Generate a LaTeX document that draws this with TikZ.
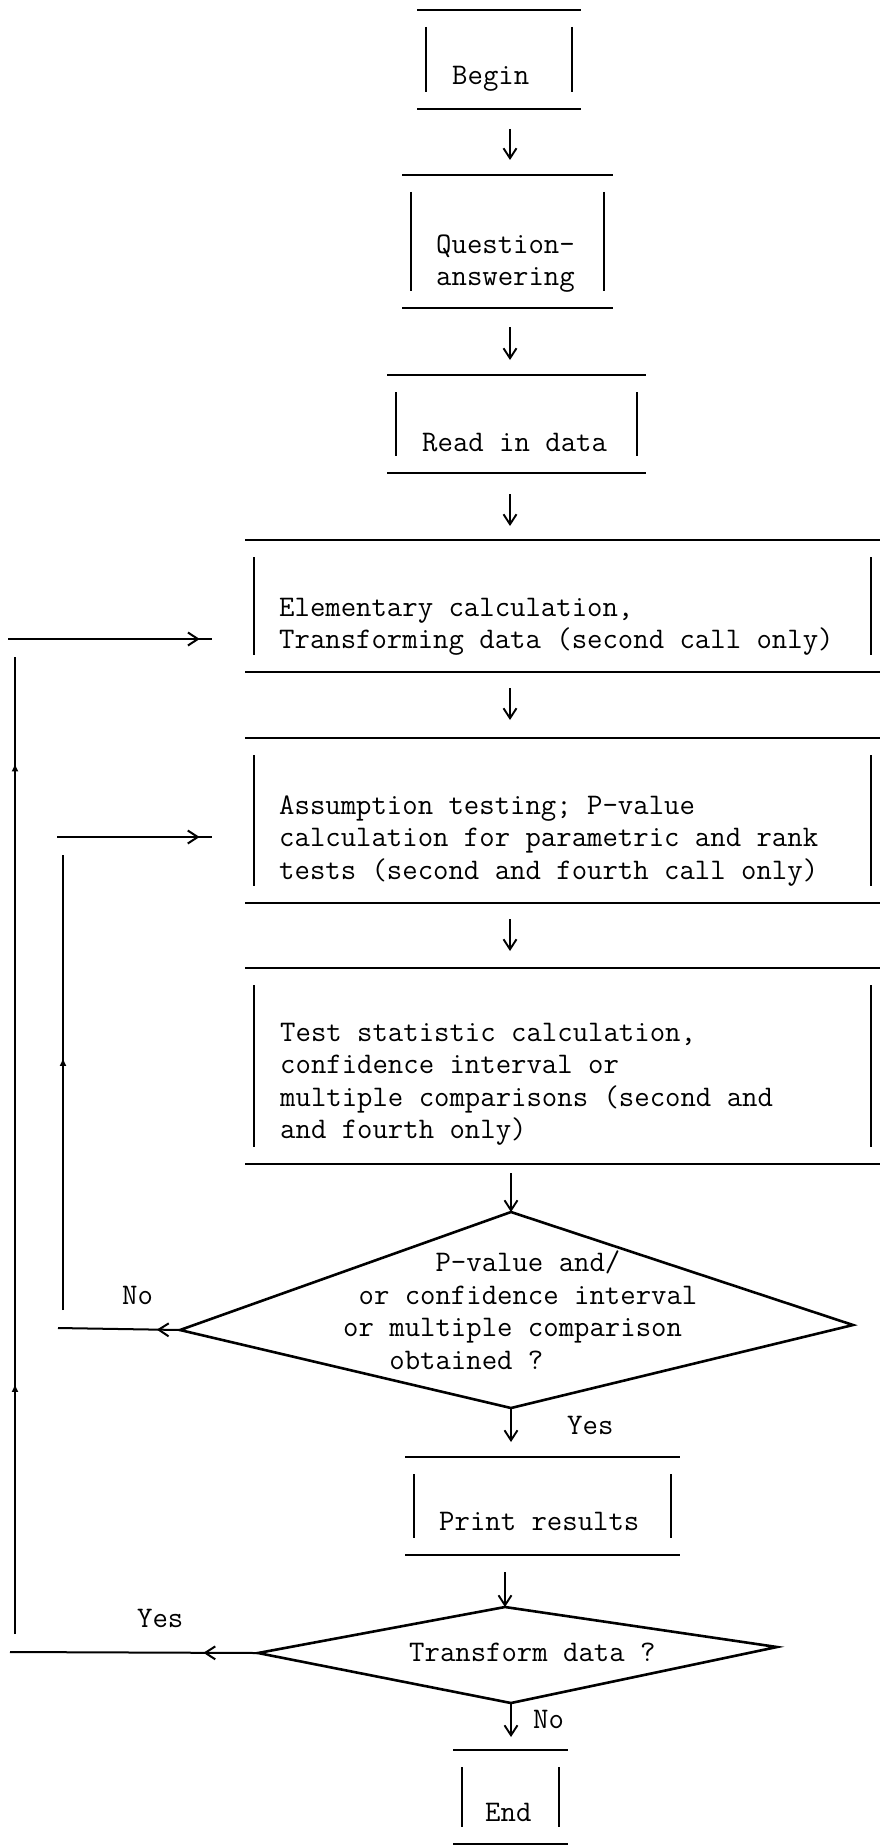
\documentclass[tikz,border=0pt]{standalone}
\usepackage{fontspec}
\usetikzlibrary{arrows.meta,decorations.markings,calc}
\newcommand\twfont{\fontsize{29.9pt}{32.5pt}\selectfont\ttfamily\addfontfeatures{FakeBold=2.5}}
\newcommand\openbox[1]{%
  \draw[hline] (#1.north west) -- (#1.north east);
  \draw[hline] (#1.south west) -- (#1.south east);
  \draw[vbar] ($(#1.north west)+(9,17)$) -- ($(#1.south west)+(9,-17)$);
  \draw[vbar] ($(#1.north east)+(-9,17)$) -- ($(#1.south east)+(-9,-17)$);}
\begin{document}
\begin{tikzpicture}[x=1pt,y=-1pt,
  frame/.style={draw=none, inner sep=0pt, outer sep=0pt},
  hline/.style={line width=2.8pt},
  vbar/.style={line width=2pt},
  txt/.style={font=\twfont, inner sep=0pt, align=left, anchor=base west},
  arr/.style={line width=1.9pt, -{Straight Barb[length=10pt,width=13pt]}},
  dia/.style={line width=2.6pt, line join=miter},
  fb/.style={line width=2pt},
  midarr/.style={postaction={decorate}, decoration={markings,
     mark=at position #1 with {\arrow{Straight Barb[length=10pt,width=13pt]}}}},
  uparr/.style={postaction={decorate}, decoration={markings,
     mark=at position #1 with {\arrow{Latex[length=8pt,width=7pt]}}}},
]
\fill[white] (0,0) rectangle (880,1846);
\useasboundingbox (0,0) rectangle (880,1846);

% box frames
\node[frame, minimum width=164pt, minimum height=99pt]  (begin) at (499,59.5) {};
\node[frame, minimum width=211pt, minimum height=133pt] (quest) at (507.5,241.5) {};
\node[frame, minimum width=259pt, minimum height=98pt]  (read)  at (516.5,424) {};
\node[frame, minimum width=635pt, minimum height=132pt] (elem)  at (562.5,606) {};
\node[frame, minimum width=635pt, minimum height=165pt] (assum) at (562.5,820.5) {};
\node[frame, minimum width=635pt, minimum height=196pt] (test)  at (562.5,1066) {};
\node[frame, minimum width=275pt, minimum height=98pt]  (print) at (542.5,1506) {};
\node[frame, minimum width=115pt, minimum height=94pt]  (end)   at (510.5,1797) {};
\openbox{begin}\openbox{quest}\openbox{read}\openbox{elem}
\openbox{assum}\openbox{test}\openbox{print}\openbox{end}

% texts (base anchor = baseline of the last line)
\node[txt] (tbegin) at (452,85) {Begin};
\node[txt] (tquest) at (436,285.5) {Question-\\answering};
\node[txt] (tread)  at (422,451) {Read in data};
\node[txt] (telem)  at (279,648.5) {Elementary calculation,\\Transforming data (second call only)};
\node[txt] (tassum) at (279,879) {Assumption testing; P-value\\calculation for parametric and rank\\tests (second and fourth call only)};
\node[txt] (ttest)  at (280,1138.5) {Test statistic calculation,\\confidence interval or\\multiple comparisons (second and\\and fourth only)};
\node[txt] (tdec1)  at (343,1369) {\hphantom{000000}P-value and/\\\hphantom{0}or confidence interval\\or multiple comparison\\\hphantom{000}obtained ?};
\node[txt] (tprint) at (439,1530) {Print results};
\node[txt] (tdec2)  at (409,1661) {Transform data ?};
\node[txt] (tend)   at (485,1821) {End};
\node[txt] (no1)  at (122,1304) {No};
\node[txt] (yes1) at (567,1434) {Yes};
\node[txt] (yes2) at (137,1627) {Yes};
\node[txt] (no2)  at (533,1728) {No};

% diamonds
\coordinate (d1t) at (511,1212);
\coordinate (d1r) at (853,1325);
\coordinate (d1b) at (511,1408);
\coordinate (d1l) at (180,1330);
\draw[dia] (d1t) -- (d1r) -- (d1b) -- (d1l) -- cycle;
\coordinate (d2t) at (505,1607);
\coordinate (d2r) at (777,1647);
\coordinate (d2b) at (511,1703);
\coordinate (d2l) at (258,1653);
\draw[dia] (d2t) -- (d2r) -- (d2b) -- (d2l) -- cycle;

% main flow arrows
\coordinate (axis) at (510,0);
\draw[arr] ($(begin.south -| axis)+(0,20)$) -- ($(quest.north -| axis)+(0,-15)$);
\draw[arr] ($(quest.south -| axis)+(0,19)$) -- ($(read.north -| axis)+(0,-15)$);
\draw[arr] ($(read.south -| axis)+(0,21)$) -- ($(elem.north -| axis)+(0,-14)$);
\draw[arr] ($(elem.south -| axis)+(0,16)$) -- ($(assum.north -| axis)+(0,-18)$);
\draw[arr] ($(assum.south -| axis)+(0,16)$) -- ($(test.north -| axis)+(0,-17)$);
\draw[arr] ($(test.south -| d1t)+(0,9)$) -- (d1t);
\draw[arr] (d1b) -- ($(print.north -| d1b)+(0,-15)$);
\draw[arr] ($(print.south -| d2t)+(0,17)$) -- (d2t);
\draw[arr] (d2b) -- ($(end.north -| d2b)+(0,-13)$);

% feedback loops
\coordinate (noend) at (58,1328);
\draw[fb, midarr=0.19] (d1l) -- (noend);
\coordinate (in1b) at (63,1310);
\coordinate (in1t) at (63,855);
\draw[fb, uparr=0.554] (in1b) -- (in1t);
\coordinate (ent2s) at (57,837);
\coordinate (ent2e) at (212,837);
\draw[fb, midarr=0.92] (ent2s) -- (ent2e);

\coordinate (yesend) at (10,1652);
\draw[fb, midarr=0.22] (d2l) -- (yesend);
\coordinate (outb) at (15,1634);
\coordinate (outt) at (15,657);
\draw[fb, postaction={decorate}, decoration={markings,
   mark=at position 0.256 with {\arrow{Latex[length=8pt,width=7pt]}},
   mark=at position 0.891 with {\arrow{Latex[length=8pt,width=7pt]}}}] (outb) -- (outt);
\coordinate (ent1s) at (8,639);
\coordinate (ent1e) at (212,639);
\draw[fb, midarr=0.94] (ent1s) -- (ent1e);
\end{tikzpicture}
\end{document}
